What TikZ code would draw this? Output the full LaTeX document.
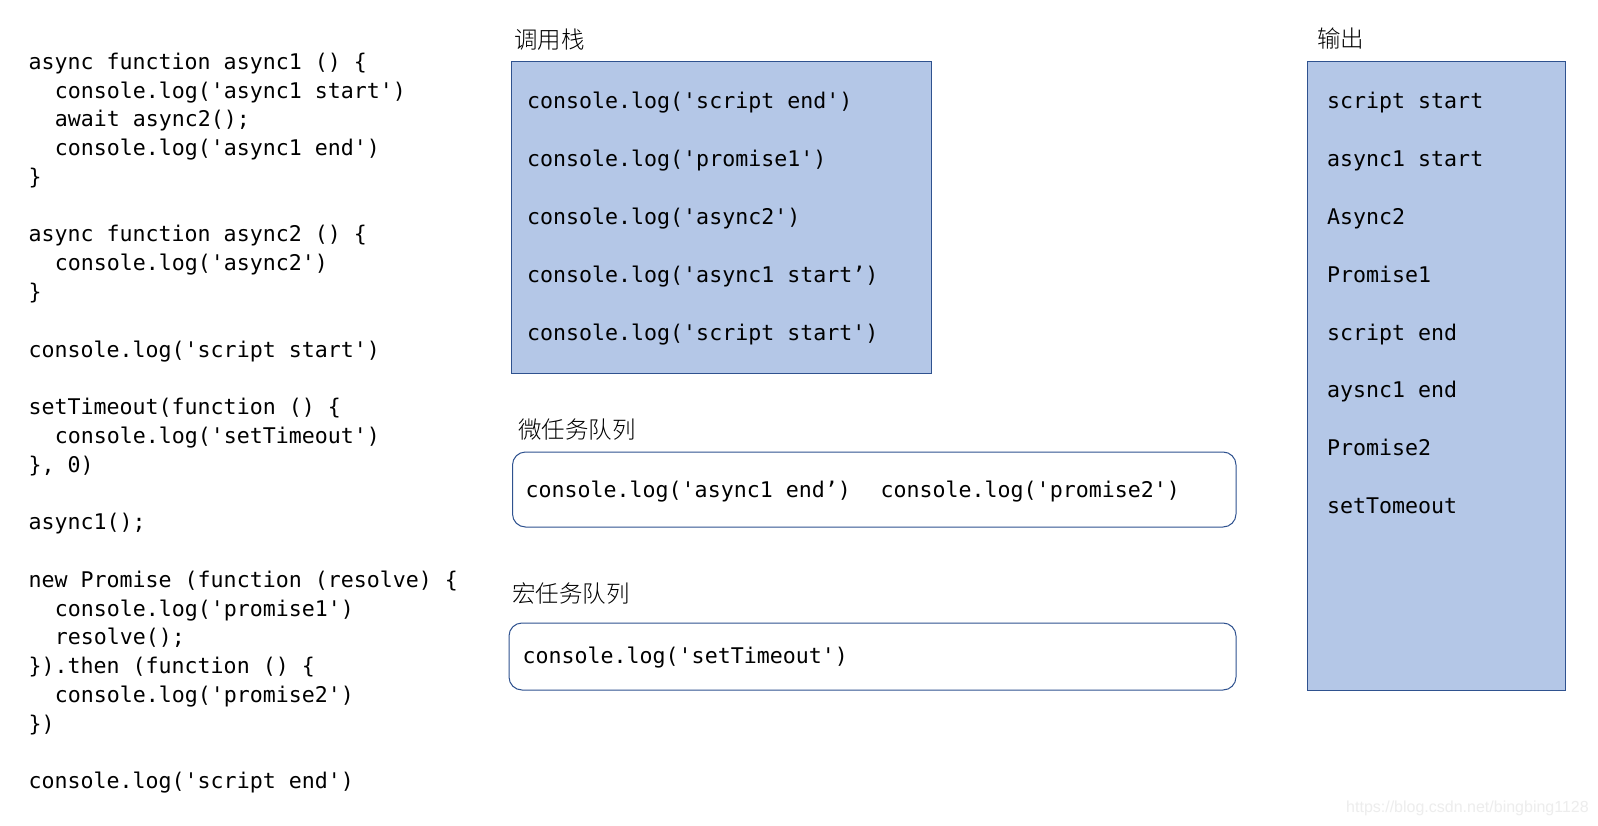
\documentclass[tikz,border=0pt]{standalone}
\usepackage{fontspec}
\setmonofont{DejaVu Sans Mono}
\IfFontExistsTF{Noto Sans CJK SC Light}{\newfontfamily\cjk{Noto Sans CJK SC Light}}{\newfontfamily\cjk{Noto Sans CJK SC}}
\newfontfamily\wmfont{Liberation Sans}
\definecolor{boxfill}{HTML}{B4C7E7}
\definecolor{boxline}{HTML}{2F528F}
\definecolor{wmgray}{HTML}{EDEDED}
\tikzset{
  codetxt/.style={anchor=base west, inner sep=0pt, font=\ttfamily\fontsize{21.6}{26}\selectfont},
  cjklabel/.style={anchor=base west, inner sep=0pt, font=\cjk\fontsize{23.5}{28}\selectfont},
  stackbox/.style={draw=boxline, fill=boxfill, line width=1pt},
  queuebox/.style={draw=boxline, fill=white, line width=1pt, rounded corners=13pt},
}
\begin{document}
\begin{tikzpicture}[x=1pt,y=-1pt]
\fill[white] (0,0) rectangle (1598,826);
\useasboundingbox (0,0) rectangle (1598,826);
% left code
\node[codetxt] (c0)  at (28.5, 69.3) {async function async1 () \{};
\node[codetxt] (c1)  at (54.6, 98.08) {console.log('async1 start')};
\node[codetxt] (c2)  at (54.6, 126.86) {await async2();};
\node[codetxt] (c3)  at (54.6, 155.64) {console.log('async1 end')};
\node[codetxt] (c4)  at (28.5, 184.42) {\}};
\node[codetxt] (c6)  at (28.5, 241.98) {async function async2 () \{};
\node[codetxt] (c7)  at (54.6, 270.76) {console.log('async2')};
\node[codetxt] (c8)  at (28.5, 299.54) {\}};
\node[codetxt] (c10) at (28.5, 357.1) {console.log('script start')};
\node[codetxt] (c12) at (28.5, 414.66) {setTimeout(function () \{};
\node[codetxt] (c13) at (54.6, 443.44) {console.log('setTimeout')};
\node[codetxt] (c14) at (28.5, 472.22) {\}, 0)};
\node[codetxt] (c16) at (28.5, 529.78) {async1();};
\node[codetxt] (c18) at (28.5, 587.34) {new Promise (function (resolve) \{};
\node[codetxt] (c19) at (54.6, 616.12) {console.log('promise1')};
\node[codetxt] (c20) at (54.6, 644.9) {resolve();};
\node[codetxt] (c21) at (28.5, 673.68) {\}).then (function () \{};
\node[codetxt] (c22) at (54.6, 702.46) {console.log('promise2')};
\node[codetxt] (c23) at (28.5, 731.24) {\})};
\node[codetxt] (c25) at (28.5, 788.8) {console.log('script end')};
% call stack
\node[cjklabel] (stacklabel) at (514, 48.5) {调用栈};
\draw[stackbox] (511.5,62) rectangle (931,373);
\node[codetxt] (s1) at (527, 109.0) {console.log('script end')};
\node[codetxt] (s2) at (527, 166.75) {console.log('promise1')};
\node[codetxt] (s3) at (527, 224.5) {console.log('async2')};
\node[codetxt] (s4) at (527, 282.25) {console.log('async1 start’)};
\node[codetxt] (s5) at (527, 340.0) {console.log('script start')};
% micro task queue
\node[cjklabel] (microlabel) at (518, 438) {微任务队列};
\draw[queuebox] (512.5,452) rectangle (1236,527);
\node[codetxt] (m1) at (525.5, 497) {console.log('async1 end’)};
\node[codetxt] (m2) at (880.5, 497) {console.log('promise2')};
% macro task queue
\node[cjklabel] (macrolabel) at (512, 602) {宏任务队列};
\draw[queuebox] (509,623) rectangle (1236,690);
\node[codetxt] (t1) at (522.5, 663) {console.log('setTimeout')};
% output
\node[cjklabel] (outlabel) at (1317, 48) {输出};
\draw[stackbox] (1307,62) rectangle (1565,690);
\node[codetxt] (o1) at (1327, 109.0) {script start};
\node[codetxt] (o2) at (1327, 166.75) {async1 start};
\node[codetxt] (o3) at (1327, 224.5) {Async2};
\node[codetxt] (o4) at (1327, 282.25) {Promise1};
\node[codetxt] (o5) at (1327, 340.0) {script end};
\node[codetxt] (o6) at (1327, 397.75) {aysnc1 end};
\node[codetxt] (o7) at (1327, 455.5) {Promise2};
\node[codetxt] (o8) at (1327, 513.25) {setTomeout};
% watermark
\node[anchor=west, inner sep=0pt, font=\wmfont\fontsize{16}{18}\selectfont, text=wmgray] (wm) at (1346, 808) {https://blog.csdn.net/bingbing1128};
\end{tikzpicture}
\end{document}
